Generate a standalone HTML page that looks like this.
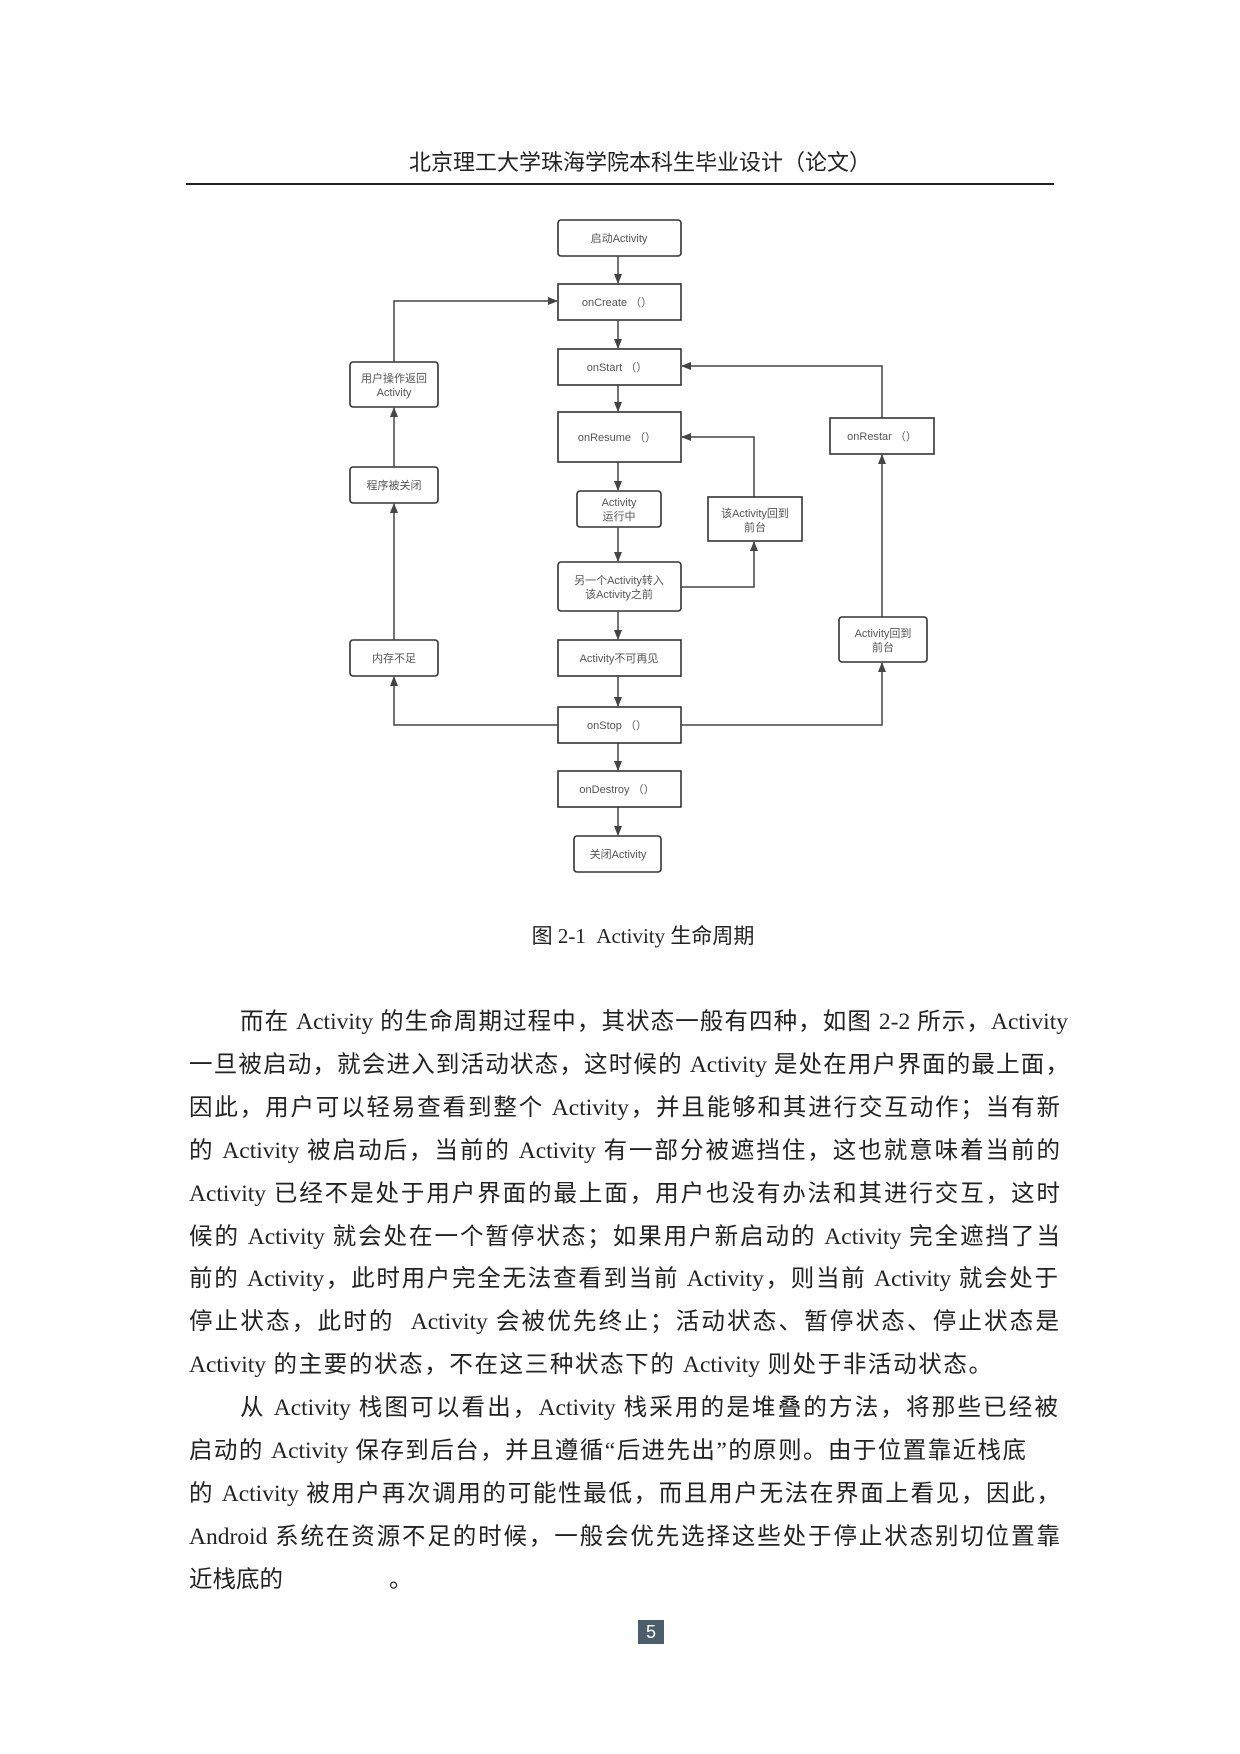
<!DOCTYPE html>
<html><head><meta charset="utf-8">
<style>
html,body{margin:0;padding:0;background:#fff;}
#page{position:relative;width:1240px;height:1754px;overflow:hidden;background:#fff;}
.hdr{position:absolute;left:0;width:1280px;top:145px;text-align:center;font-family:"Liberation Sans","Noto Sans CJK SC",sans-serif;font-size:22px;color:#222;}
.rule{position:absolute;left:186px;top:183px;width:868px;height:1.5px;background:#222;}
.cap{position:absolute;left:0;width:1286px;top:920px;text-align:center;font-family:"Liberation Serif","Noto Sans CJK SC",serif;font-size:21px;color:#222;}
.ln{position:absolute;left:189px;height:30px;font-family:"Liberation Serif","Noto Sans CJK SC",serif;font-size:23.5px;color:#222;white-space:nowrap;text-align:justify;text-align-last:justify;line-height:30px;}
.pn{position:absolute;left:638px;top:1620px;width:26px;height:24px;background:#4a5f6b;color:#fff;font-family:"Liberation Sans",sans-serif;font-size:18px;line-height:24px;text-align:center;}
svg text{font-family:"Liberation Sans","Noto Sans CJK SC",sans-serif;font-size:11px;fill:#555;text-anchor:middle;}
</style></head><body><div id="page">
<div class="hdr">北京理工大学珠海学院本科生毕业设计（论文）</div>
<div class="rule"></div>
<svg width="1240" height="900" style="position:absolute;left:0;top:0">
<defs><marker id="a" markerWidth="10" markerHeight="10" refX="9" refY="5" orient="auto" markerUnits="userSpaceOnUse"><path d="M0,1 L10,5 L0,9 Z" fill="#444"/></marker></defs>
<g fill="none" stroke="#333" stroke-width="1.6">
<rect x="558" y="220" width="123" height="36" rx="3"/>
<rect x="558" y="284" width="123" height="36"/>
<rect x="558" y="349" width="123" height="36"/>
<rect x="558" y="412" width="123" height="50"/>
<rect x="577" y="491" width="84" height="36" rx="3"/>
<rect x="558" y="562" width="123" height="49" rx="3"/>
<rect x="558" y="640" width="123" height="36"/>
<rect x="558" y="707" width="123" height="36"/>
<rect x="558" y="771" width="123" height="36"/>
<rect x="574" y="836" width="87" height="36" rx="3"/>
<rect x="350" y="362" width="88" height="45" rx="3"/>
<rect x="350" y="467" width="88" height="36" rx="3"/>
<rect x="350" y="640" width="88" height="36" rx="3"/>
<rect x="708" y="497" width="94" height="44"/>
<rect x="830" y="418" width="104" height="36"/>
<rect x="839" y="617" width="88" height="45" rx="3"/>
</g>
<g fill="none" stroke="#444" stroke-width="1.5" marker-end="url(#a)">
<path d="M618,256 V283"/>
<path d="M618,320 V348"/>
<path d="M618,385 V411"/>
<path d="M618,462 V490"/>
<path d="M618,527 V561"/>
<path d="M618,611 V639"/>
<path d="M618,676 V706"/>
<path d="M618,743 V770"/>
<path d="M618,807 V835"/>
<path d="M558,725 H394 V677"/>
<path d="M394,640 V504"/>
<path d="M394,467 V408"/>
<path d="M394,362 V301 H557"/>
<path d="M681,725 H882 V663"/>
<path d="M882,617 V455"/>
<path d="M882,418 V366 H682"/>
<path d="M681,587 H754 V542"/>
<path d="M754,497 V437 H682"/>
</g>
<text x="619" y="242">启动Activity</text>
<text x="617" y="306">onCreate （）</text>
<text x="617" y="371">onStart （）</text>
<text x="617" y="441">onResume （）</text>
<text x="619" y="506">Activity</text><text x="619" y="520">运行中</text>
<text x="619" y="584">另一个Activity转入</text><text x="619" y="598">该Activity之前</text>
<text x="619" y="662">Activity不可再见</text>
<text x="617" y="729">onStop （）</text>
<text x="617" y="793">onDestroy （）</text>
<text x="618" y="858">关闭Activity</text>
<text x="394" y="382">用户操作返回</text><text x="394" y="396">Activity</text>
<text x="394" y="489">程序被关闭</text>
<text x="394" y="662">内存不足</text>
<text x="755" y="517">该Activity回到</text><text x="755" y="531">前台</text>
<text x="882" y="440">onRestar （）</text>
<text x="883" y="637">Activity回到</text><text x="883" y="651">前台</text>
</svg>
<div class="cap">图 2-1&nbsp;&nbsp;Activity 生命周期</div>
<div class="ln" style="top:1007px;left:240px;width:828px">而在 Activity 的生命周期过程中，其状态一般有四种，如图 2-2 所示，Activity</div>
<div class="ln" style="top:1050px;width:880px">一旦被启动，就会进入到活动状态，这时候的 Activity 是处在用户界面的最上面，</div>
<div class="ln" style="top:1093px;width:871px">因此，用户可以轻易查看到整个 Activity，并且能够和其进行交互动作；当有新</div>
<div class="ln" style="top:1136px;width:871px">的 Activity 被启动后，当前的 Activity 有一部分被遮挡住，这也就意味着当前的</div>
<div class="ln" style="top:1179px;width:871px">Activity 已经不是处于用户界面的最上面，用户也没有办法和其进行交互，这时</div>
<div class="ln" style="top:1222px;width:871px">候的 Activity 就会处在一个暂停状态；如果用户新启动的 Activity 完全遮挡了当</div>
<div class="ln" style="top:1264px;width:869px">前的 Activity，此时用户完全无法查看到当前 Activity，则当前 Activity 就会处于</div>
<div class="ln" style="top:1307px;width:870px">停止状态，此时的&nbsp; Activity 会被优先终止；活动状态、暂停状态、停止状态是</div>
<div class="ln" style="top:1350px;width:803px">Activity 的主要的状态，不在这三种状态下的 Activity 则处于非活动状态。</div>
<div class="ln" style="top:1393px;left:240px;width:818px">从 Activity 栈图可以看出，Activity 栈采用的是堆叠的方法，将那些已经被</div>
<div class="ln" style="top:1436px;width:837px">启动的 Activity 保存到后台，并且遵循“后进先出”的原则。由于位置靠近栈底</div>
<div class="ln" style="top:1479px;width:871px">的 Activity 被用户再次调用的可能性最低，而且用户无法在界面上看见，因此，</div>
<div class="ln" style="top:1522px;width:871px">Android 系统在资源不足的时候，一般会优先选择这些处于停止状态别切位置靠</div>
<div class="ln" style="top:1565px;text-align:left;text-align-last:left">近栈底的<span style="display:inline-block;width:106px"></span>。</div>
<div class="pn">5</div>
</div></body></html>
